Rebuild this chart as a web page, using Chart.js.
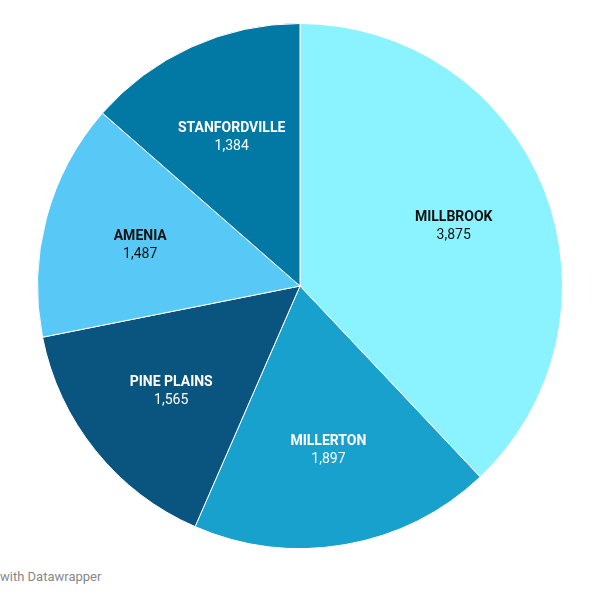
<!DOCTYPE html>
<html>
<head>
<meta charset="utf-8">
<script src="https://cdn.jsdelivr.net/npm/chart.js@4"></script>
<style>
  html, body { margin: 0; padding: 0; background: #fff; width: 600px; height: 600px; overflow: hidden; }
  #wrap { position: absolute; left: 0; top: 23px; width: 600px; height: 526px; }
  #credit { position: absolute; left: 0; top: 569px; font-family: Roboto, sans-serif; font-size: 13px; color: #888; }
</style>
</head>
<body>
<div id="wrap"><canvas id="pie"></canvas></div>
<div id="credit">with Datawrapper</div>
<script>
const towns = ['MILLBROOK', 'MILLERTON', 'PINE PLAINS', 'AMENIA', 'STANFORDVILLE'];
const population = [3875, 1897, 1565, 1487, 1384];
const colores = ['#8af3ff', '#18a1cd', '#09557f', '#58c8f7', '#0179a4'];
const corTexto = ['#111', '#fff', '#fff', '#111', '#fff'];

// rótulos dentro das fatias
const rotulos = {
  id: 'rotulos',
  afterDatasetsDraw(chart) {
    const ctx = chart.ctx;
    const meta = chart.getDatasetMeta(0);
    ctx.save();
    ctx.textAlign = 'center';
    ctx.textBaseline = 'middle';
    meta.data.forEach((arc, i) => {
      const mid = (arc.startAngle + arc.endAngle) / 2;
      const r = arc.outerRadius * 0.63;
      const x = arc.x + Math.cos(mid) * r;
      const y = arc.y + Math.sin(mid) * r;
      ctx.fillStyle = corTexto[i];
      ctx.font = 'bold 14px Roboto, sans-serif';
      ctx.fillText(towns[i], x, y - 7);
      ctx.font = '14px Roboto, sans-serif';
      ctx.fillText(population[i].toLocaleString('en-US'), x, y + 11);
    });
    ctx.restore();
  }
};

new Chart(document.getElementById('pie'), {
  type: 'pie',
  data: {
    labels: towns,
    datasets: [{
      data: population,
      backgroundColor: colores,
      borderColor: '#fff',
      borderWidth: 1
    }]
  },
  options: {
    responsive: true,
    maintainAspectRatio: false,
    animation: false,
    layout: { padding: 0 },
    plugins: {
      legend: { display: false },
      tooltip: { enabled: false }
    }
  },
  plugins: [rotulos]
});
</script>
</body>
</html>
